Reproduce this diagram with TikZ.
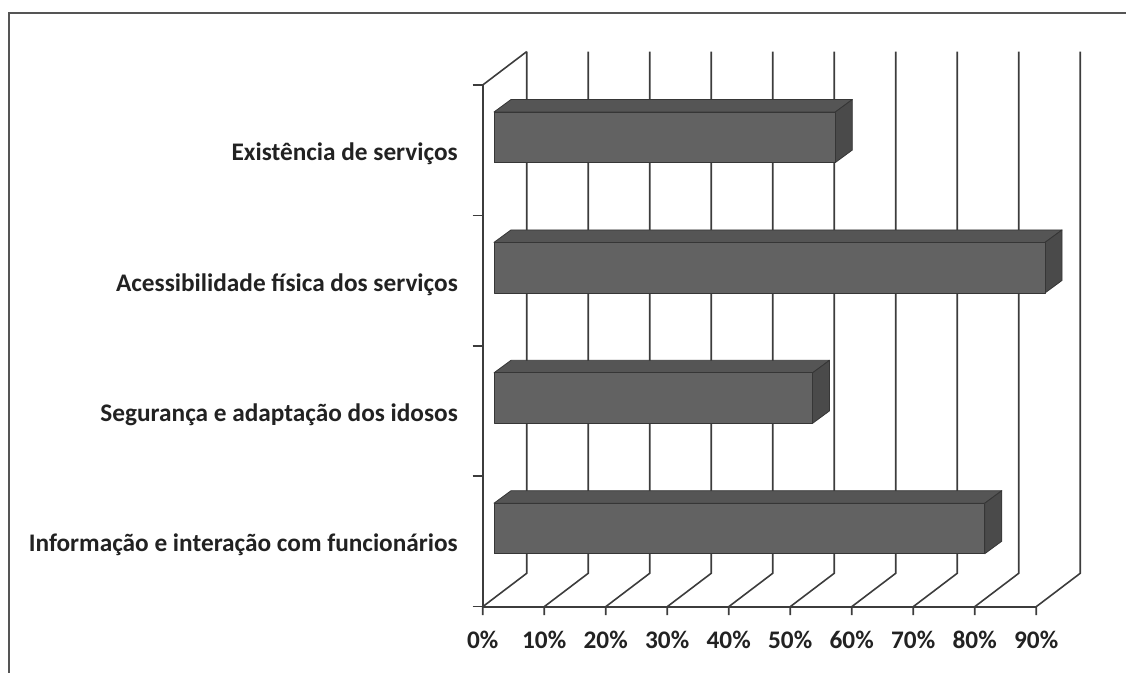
\documentclass[tikz,border=0pt]{standalone}
\usepackage{fontspec}
\setmainfont{Carlito}
\usetikzlibrary{positioning}

\definecolor{framegray}{HTML}{555555}
\definecolor{gridgray}{HTML}{3C3C3C}
\definecolor{barfront}{HTML}{626262}
\definecolor{bartop}{HTML}{555555}
\definecolor{barside}{HTML}{4A4A4A}
\definecolor{baredge}{HTML}{363636}
\definecolor{labelgray}{HTML}{222222}

\begin{document}
\begin{tikzpicture}[x=1pt,y=-1pt,
  gridline/.style={draw=gridgray,line width=1.6pt},
  barface/.style={draw=baredge,line width=0.8pt,line join=round},
  catlabel/.style={anchor=base east,inner sep=0pt,text=labelgray,font=\fontsize{25.3}{30}\selectfont\bfseries},
  pctlabel/.style={anchor=base,inner sep=0pt,text=labelgray,font=\fontsize{25.3}{30}\selectfont\bfseries}]
\useasboundingbox (0,0) rectangle (1126,673);

% frame (only top and left edges are in the picture)
\draw[framegray,line width=2pt] (1126,12.7) -- (9,12.7) -- (9,673);

% left wall, floor and back wall grid
\coordinate (wallfront) at (482.7,85);
\coordinate (wallback) at (526.7,51.6);
\draw[gridline] (wallfront) -- (wallback);
\draw[gridline] (wallfront) -- (482.7,606.7) -- (1036,606.7);
\foreach \j in {0,...,4}
  \draw[gridline] (472.7,{85+130.4*\j}) -- (482.7,{85+130.4*\j});
\foreach \k in {0,...,9}{
  \draw[gridline] ({482.7+61.5*\k},615) -- ({482.7+61.5*\k},606.7)
    -- ({526.7+61.5*\k},573.3) -- ({526.7+61.5*\k},51.6);
}

% bars
\foreach \i/\v in {0/55.5,1/89.6,2/51.8,3/79.8}{
  \pgfmathsetmacro{\xl}{494}
  \pgfmathsetmacro{\xr}{494+6.15*\v}
  \pgfmathsetmacro{\yt}{112+130.4*\i}
  \pgfmathsetmacro{\yb}{162.5+130.4*\i}
  \draw[barface,fill=bartop] (\xl,\yt) -- ++(17,-12.5) -- (\xr+17,\yt-12.5) -- (\xr,\yt) -- cycle;
  \draw[barface,fill=barside] (\xr,\yt) -- ++(17,-12.5) -- (\xr+17,\yb-12.5) -- (\xr,\yb) -- cycle;
  \draw[barface,fill=barfront] (\xl,\yt) rectangle (\xr,\yb);
}

% category labels
\node[catlabel] (lblexist) at (458,160.7) {Existência de serviços};
\node[catlabel] (lblacess) at (458,291.1) {Acessibilidade física dos serviços};
\node[catlabel] (lblsegur) at (458,421.5) {Segurança e adaptação dos idosos};
\node[catlabel] (lblinfo) at (458,551.9) {Informação e interação com funcionários};

% value axis labels
\foreach \k in {0,...,9}
  \node[pctlabel] (pct\k) at ({482.7+61.5*\k},648.3) {\pgfmathparse{int(10*\k)}\pgfmathresult\%};
\end{tikzpicture}
\end{document}
